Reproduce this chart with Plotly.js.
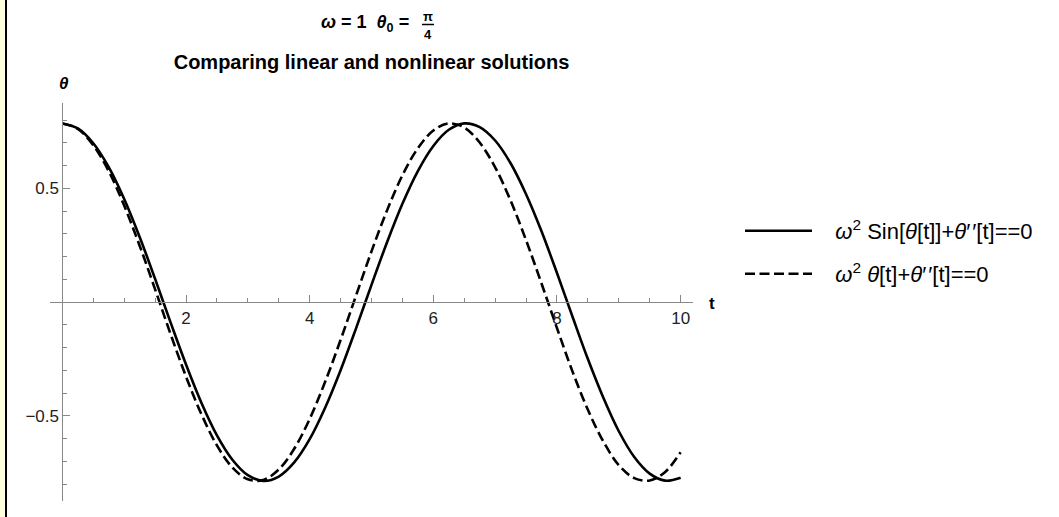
<!DOCTYPE html>
<html>
<head>
<meta charset="utf-8">
<script src="https://cdn.plot.ly/plotly-3.0.1.min.js"></script>
<style>
  html, body { margin: 0; padding: 0; }
  body {
    background: linear-gradient(to right, #FFFFE0 0, #FFFFE0 5px, #000 5px, #000 7px, #fff 7px);
  }
  #chart { width: 1059px; height: 517px; }
</style>
</head>
<body>
<div id="chart"></div>
<script>
// Sample times (t) for both solutions
const tValues = [
  0, 0.25, 0.5, 0.75, 1, 1.25, 1.5, 1.75, 2, 2.25,
  2.5, 2.75, 3, 3.25, 3.5, 3.75, 4, 4.25, 4.5, 4.75,
  5, 5.25, 5.5, 5.75, 6, 6.25, 6.5, 6.75, 7, 7.25,
  7.5, 7.75, 8, 8.25, 8.5, 8.75, 9, 9.25, 9.5, 9.75, 10
];

// Nonlinear pendulum: ω² Sin[θ[t]] + θ''[t] == 0, θ(0) = π/4
const nonlinearTheta = [
  0.785, 0.763, 0.698, 0.593, 0.453, 0.286, 0.102, -0.089, -0.274, -0.443,
  -0.585, -0.692, -0.760, -0.785, -0.766, -0.704, -0.602, -0.464, -0.299, -0.115,
  0.076, 0.262, 0.432, 0.576, 0.686, 0.757, 0.785, 0.769, 0.710, 0.610,
  0.474, 0.311, 0.128, -0.063, -0.250, -0.420, -0.567, -0.680, -0.753, -0.784, -0.771
];

// Linearised pendulum: ω² θ[t] + θ''[t] == 0, θ(0) = π/4
const linearTheta = [
  0.785, 0.761, 0.689, 0.575, 0.424, 0.248, 0.056, -0.140, -0.327, -0.493,
  -0.629, -0.726, -0.778, -0.781, -0.735, -0.644, -0.513, -0.350, -0.166, 0.029,
  0.223, 0.402, 0.557, 0.676, 0.754, 0.785, 0.767, 0.701, 0.592, 0.446,
  0.272, 0.082, -0.114, -0.304, -0.473, -0.612, -0.716, -0.773, -0.783, -0.746, -0.659
];

const seriesNames = [
  '<i>ω</i><sup>2</sup> Sin[<i>θ</i>[t]]+<i>θ</i>′\u200A′[t]==0',
  '<i>ω</i><sup>2</sup> <i>θ</i>[t]+<i>θ</i>′\u200A′[t]==0'
];

const xTickVals = [2, 4, 6, 8, 10];
const yTickVals = [-0.5, 0.5];

const FONT = 'Liberation Sans, Arial, sans-serif';
const AXIS_GRAY = '#888';
const LABEL_GAP = '\u00A0\u00A0\u00A0';

const xRange = [-0.2, 10.2];
const yRange = [-0.8734, 0.8747];

// Figure geometry (pixels)
const W = 1059, H = 517;
const margin = { l: 50, r: 366, t: 103, b: 16, pad: 0 };
const plotW = W - margin.l - margin.r;
const plotH = H - margin.t - margin.b;

// Axes cross at the origin
const xAxisPos = (0 - yRange[0]) / (yRange[1] - yRange[0]);
const yAxisPos = (0 - xRange[0]) / (xRange[1] - xRange[0]);

// Convert page pixel positions to paper coordinates for text/decoration placement
const px = x => (x - margin.l) / plotW;
const py = y => (H - margin.b - y) / plotH;

const traces = [
  {
    x: tValues, y: nonlinearTheta, type: 'scatter', mode: 'lines',
    name: LABEL_GAP + seriesNames[0], legend: 'legend',
    line: { color: '#000', width: 2.6, shape: 'spline', smoothing: 1 }
  },
  {
    x: tValues, y: linearTheta, type: 'scatter', mode: 'lines',
    name: LABEL_GAP + seriesNames[1], legend: 'legend2',
    line: { color: '#000', width: 2.6, dash: '10px,4.5px', shape: 'spline', smoothing: 1 }
  }
];

const legendBase = {
  xanchor: 'left', yanchor: 'middle',
  bgcolor: 'rgba(0,0,0,0)', borderwidth: 0,
  font: { family: FONT, size: 22, color: '#000' },
  itemwidth: 67
};

const layout = {
  width: W, height: H,
  margin: margin,
  paper_bgcolor: 'rgba(0,0,0,0)',
  plot_bgcolor: 'rgba(0,0,0,0)',
  showlegend: true,
  title: {
    text: '<b>Comparing linear and nonlinear solutions</b>',
    font: { family: FONT, size: 20, color: '#000' },
    x: 0.5, xref: 'paper', xanchor: 'center',
    y: 1 - 62 / H, yref: 'container', yanchor: 'middle'
  },
  xaxis: {
    range: xRange, anchor: 'free', position: xAxisPos,
    showline: true, linecolor: AXIS_GRAY, linewidth: 1,
    zeroline: false, showgrid: false,
    tickmode: 'array', tickvals: xTickVals,
    ticks: 'inside', ticklen: 7, tickwidth: 1, tickcolor: AXIS_GRAY,
    tickfont: { family: FONT, size: 17, color: '#222' },
    minor: { tickmode: 'linear', tick0: 0, dtick: 0.5, ticks: 'inside', ticklen: 4, tickwidth: 1, tickcolor: AXIS_GRAY, showgrid: false }
  },
  yaxis: {
    range: yRange, anchor: 'free', position: yAxisPos,
    showline: true, linecolor: AXIS_GRAY, linewidth: 1,
    zeroline: false, showgrid: false,
    tickmode: 'array', tickvals: yTickVals,
    ticks: 'inside', ticklen: 7, tickwidth: 1, tickcolor: AXIS_GRAY,
    tickfont: { family: FONT, size: 17, color: '#222' },
    minor: { tickmode: 'linear', tick0: 0, dtick: 0.1, ticks: 'inside', ticklen: 4, tickwidth: 1, tickcolor: AXIS_GRAY, showgrid: false }
  },
  legend: Object.assign({}, legendBase, { x: px(740), y: py(231) }),
  legend2: Object.assign({}, legendBase, { x: px(740), y: py(274) }),
  annotations: [
    {
      text: '<b><i>ω</i> = 1\u00A0\u00A0<i>θ</i><sub>0</sub> =</b>',
      xref: 'paper', yref: 'paper', x: px(411), y: py(24),
      xanchor: 'right', yanchor: 'middle', showarrow: false,
      font: { family: FONT, size: 18, color: '#000' }
    },
    {
      text: '<b>π</b>',
      xref: 'paper', yref: 'paper', x: px(428), y: py(16),
      xanchor: 'center', yanchor: 'middle', showarrow: false,
      font: { family: FONT, size: 13, color: '#000' }
    },
    {
      text: '<b>4</b>',
      xref: 'paper', yref: 'paper', x: px(428), y: py(35),
      xanchor: 'center', yanchor: 'middle', showarrow: false,
      font: { family: FONT, size: 13, color: '#000' }
    },
    {
      text: '<b><i>θ</i></b>',
      xref: 'paper', yref: 'paper', x: px(64), y: py(83),
      xanchor: 'center', yanchor: 'middle', showarrow: false,
      font: { family: FONT, size: 17, color: '#000' }
    },
    {
      text: '<b>t</b>',
      xref: 'paper', yref: 'paper', x: px(712), y: py(303),
      xanchor: 'center', yanchor: 'middle', showarrow: false,
      font: { family: FONT, size: 17, color: '#000' }
    }
  ],
  shapes: [
    // fraction bar under π
    {
      type: 'line', xref: 'paper', yref: 'paper',
      x0: px(422), x1: px(434), y0: py(24.5), y1: py(24.5),
      line: { color: '#000', width: 1.5 }
    }
  ]
};

Plotly.newPlot('chart', traces, layout, { displayModeBar: false, staticPlot: true });
</script>
</body>
</html>
